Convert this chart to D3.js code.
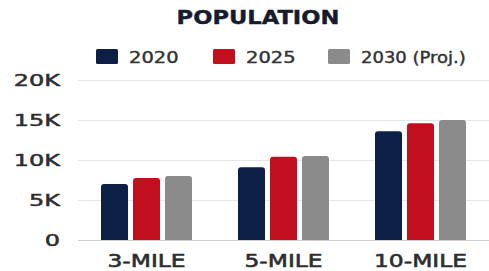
<!DOCTYPE html>
<html><head><meta charset="utf-8">
<script src="https://cdn.jsdelivr.net/npm/d3@7"></script>
<style>html,body{margin:0;padding:0;background:#fff;}svg{display:block;}</style>
</head><body>
<svg id="chart" width="489" height="271"></svg>
<script>
const categories = ["3-MILE", "5-MILE", "10-MILE"];
const seriesNames = ["2020", "2025", "2030 (Proj.)"];
const values2020 = [7000, 9100, 13600];
const values2025 = [7750, 10400, 14600];
const values2030 = [8000, 10500, 15000];
const tickValues = [0, 5000, 10000, 15000, 20000];
const tickLabels = ["0", "5K", "10K", "15K", "20K"];
const colors = ["#0c1f44", "#c10f1d", "#8b8b8b"];
const title = "POPULATION";

const series = [values2020, values2025, values2030];
const svg = d3.select("#chart");
const FONT = "DejaVu Sans, sans-serif";

const x0 = d3.scaleBand().domain(categories).range([78, 489]).paddingInner(0.336).paddingOuter(0.168);
const x1 = d3.scaleBand().domain(d3.range(series.length)).range([0, x0.bandwidth()]).paddingInner(0.156).paddingOuter(0);
const y = d3.scaleLinear().domain([0, 20000]).range([240, 80]);

function txt(x, yy, s, size, weight, anchor, sx, fill, sw) {
  const g = svg.append("g").attr("transform", `translate(${x},${yy}) scale(${sx},1)`);
  g.append("text").attr("x", 0).attr("y", 0).attr("text-anchor", anchor)
    .attr("font-family", FONT).attr("font-size", size).attr("font-weight", weight)
    .attr("fill", fill).attr("stroke", fill).attr("stroke-width", sw || 0)
    .attr("stroke-linejoin", "round").text(s);
  return g;
}

// gridlines
const yAxis = d3.axisLeft(y).tickValues(tickValues).tickSize(-(489 - 78)).tickFormat("");
const ga = svg.append("g").attr("transform", "translate(78,0)").call(yAxis);
ga.select(".domain").remove();
ga.selectAll(".tick line").attr("stroke", (d) => d === 0 ? "#cfcfcf" : "#e6e6e6").attr("stroke-width", 1.2);

// tick labels
tickValues.forEach((v, i) => txt(60, y(v) + 6, tickLabels[i], 16, "normal", "end", 1.5, "#2e2e2e", 0.5));

// bars
function barPath(x, yTop, w, h, r) {
  r = Math.min(r, h);
  return `M${x},${yTop + h}V${yTop + r}Q${x},${yTop} ${x + r},${yTop}H${x + w - r}Q${x + w},${yTop} ${x + w},${yTop + r}V${yTop + h}Z`;
}
categories.forEach((c, ci) => {
  series.forEach((s, si) => {
    const bx = x0(c) + x1(si);
    const top = y(s[ci]);
    svg.append("path").attr("d", barPath(bx, top, x1.bandwidth(), y(0) - top, 3)).attr("fill", colors[si]);
  });
  txt(x0(c) + x0.bandwidth() / 2, 267, c, 18, "normal", "middle", 1.3, "#2e2e2e", 0.6);
});

// title
txt(258, 24, title, 19, "bold", "middle", 1.19, "#161c2c", 0.4);

// legend
const legendX = [96, 213, 328];
seriesNames.forEach((n, i) => {
  svg.append("rect").attr("x", legendX[i]).attr("y", 49).attr("width", 22).attr("height", 15).attr("rx", 1.5).attr("fill", colors[i]);
  txt(legendX[i] + 33, 63, n, 15, "normal", "start", i === 2 ? 1.2 : 1.3, "#333", 0.4);
});
</script>
</body></html>
